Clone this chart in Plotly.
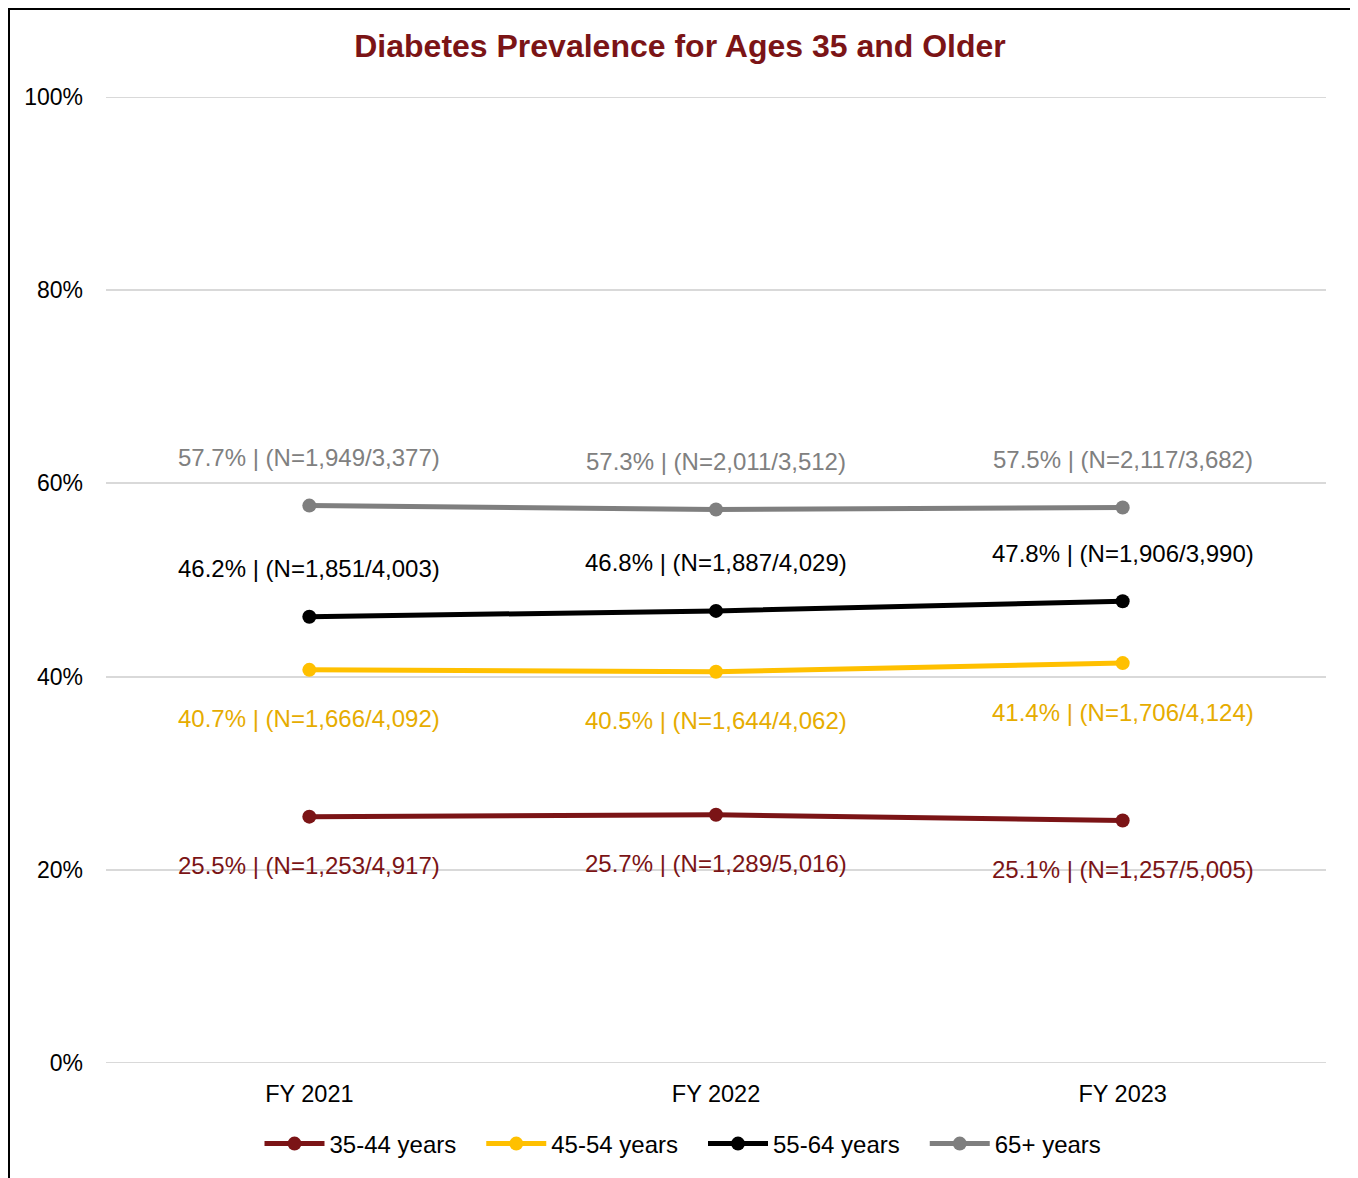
import plotly.graph_objects as go

years = ["FY 2021", "FY 2022", "FY 2023"]
series = ["35-44 years", "45-54 years", "55-64 years", "65+ years"]
prev_3544 = [25.5, 25.7, 25.1]
prev_4554 = [40.7, 40.5, 41.4]
prev_5564 = [46.2, 46.8, 47.8]
prev_65 = [57.7, 57.3, 57.5]
n_3544 = ["1,253/4,917", "1,289/5,016", "1,257/5,005"]
n_4554 = ["1,666/4,092", "1,644/4,062", "1,706/4,124"]
n_5564 = ["1,851/4,003", "1,887/4,029", "1,906/3,990"]
n_65 = ["1,949/3,377", "2,011/3,512", "2,117/3,682"]

line_colors = ["#7B1416", "#FFC000", "#000000", "#7F7F7F"]
label_colors = ["#7B1416", "#E6AC00", "#000000", "#808080"]
label_shift = [-49, -49, 48, 48]
# extra space after legend entries (Excel spaces them wider than plotly)
legend_pad = ["\u00a0\u00a0\u00a0", "\u00a0\u00a0\u00a0", "\u00a0\u00a0\u00a0", ""]

FONT = "Liberation Sans, Arial, sans-serif"

# page has an 8px body margin, so the figure is sized to fit inside it
W, H = 1350, 1170
L, R, T, B = 98, 32, 89, 115
PW, PH = W - L - R, H - T - B

fig = go.Figure()
annotations = []
for name, vals, ns, lc, tc, dy, pad in zip(series, [prev_3544, prev_4554, prev_5564, prev_65],
                                           [n_3544, n_4554, n_5564, n_65],
                                           line_colors, label_colors, label_shift, legend_pad):
    fig.add_trace(go.Scatter(
        x=years, y=vals, name=name + pad, mode="lines+markers",
        line=dict(color=lc, width=5),
        marker=dict(color=lc, size=14),
    ))
    for x, v, n in zip(years, vals, ns):
        annotations.append(dict(
            x=x, y=v, xref="x", yref="y", text=f"{v:.1f}% | (N={n})",
            showarrow=False, yshift=dy, font=dict(size=24, color=tc, family=FONT),
        ))

# gridlines at the range ends (plotly skips them)
for gy in (0, 100):
    fig.add_shape(type="line", xref="paper", yref="y", x0=0, x1=1, y0=gy, y1=gy,
                  line=dict(color="#D9D9D9", width=2), layer="below")

# chart border
fig.add_shape(type="rect", xref="paper", yref="paper",
              x0=(1 - L) / PW, x1=(1343 - L) / PW,
              y0=-0.3, y1=1 + (T - 1) / PH,
              line=dict(color="#000000", width=2), fillcolor="rgba(0,0,0,0)")

fig.update_layout(
    width=W, height=H,
    margin=dict(l=L, r=R, t=T, b=B),
    paper_bgcolor="white", plot_bgcolor="white",
    font=dict(family=FONT, size=23, color="#000000"),
    title=dict(text="<b>Diabetes Prevalence for Ages 35 and Older</b>",
               x=(672 / W), xanchor="center", y=1 - 38 / H, yanchor="middle",
               font=dict(size=32, color="#7B1416", family=FONT)),
    xaxis=dict(range=[-0.5, 2.5], showgrid=False, showline=False, ticks="",
               tickfont=dict(size=23.5), ticklabelstandoff=14),
    yaxis=dict(range=[0, 100], tickvals=[0, 20, 40, 60, 80, 100],
               ticktext=["0%", "20%", "40%", "60%", "80%", "100%"],
               gridcolor="#D9D9D9", gridwidth=2, zeroline=False, showline=False,
               ticks="", tickfont=dict(size=23), ticklabelstandoff=22),
    legend=dict(orientation="h", x=(675 - L) / PW, xanchor="center",
                y=1 - (1136 - T) / PH, yanchor="middle",
                font=dict(size=24), itemwidth=60, tracegroupgap=0),
    annotations=annotations,
    showlegend=True,
)

fig.write_html("out.html")
